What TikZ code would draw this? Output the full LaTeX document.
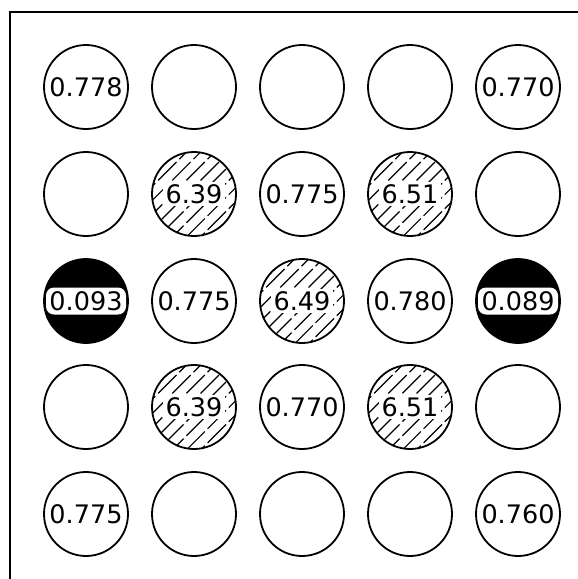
\documentclass[tikz,border=0pt]{standalone}
\usepackage{fontspec}
\setmainfont{DejaVu Sans}
\begin{document}
\begin{tikzpicture}[x=1pt,y=-1pt,
  circ/.style={circle,draw=black,line width=1.8pt,minimum size=84pt,inner sep=0pt,
    font=\fontsize{25.5}{25.5}\selectfont},
  blackcirc/.style={circ,fill=black},
  whitelabel/.style={fill=white,rounded corners=8pt,minimum width=80pt,minimum height=27pt,
    inner sep=0pt,font=\fontsize{25.5}{25.5}\selectfont},
  hatchline/.style={line width=1.2pt,dash pattern=on 26pt off 4pt},
  hatched/.style={circ,path picture={
    \foreach \d [evaluate=\d as \a using 0.7071*\d-50,
                 evaluate=\d as \b using -0.7071*\d-50,
                 evaluate=\d as \p using {mod(abs(\d)*7,30)}] in {-55,-45,...,55}
      \draw[hatchline,dash phase=\p pt] ([shift={(\a pt,\b pt)}]path picture bounding box.center) -- ++(100pt,100pt);
  }},
  frame/.style={line width=1.8pt}
]
\useasboundingbox (0,0) rectangle (578,579);
\coordinate (fa) at (10,579);
\coordinate (fb) at (10,12);
\coordinate (fc) at (578,12);
\draw[frame] (fa) -- (fb) -- (fc);

\newcommand{\hl}[1]{{\setlength\fboxsep{2.5pt}\colorbox{white}{#1}}}

% row 1
\node[circ] (c11) at (86,87) {0.778};
\node[circ] (c12) at (194,87) {};
\node[circ] (c13) at (302,87) {};
\node[circ] (c14) at (410,87) {};
\node[circ] (c15) at (518,87) {0.770};
% row 2
\node[circ] (c21) at (86,194) {};
\node[hatched] (c22) at (194,194) {\hl{6.39}};
\node[circ] (c23) at (302,194) {0.775};
\node[hatched] (c24) at (410,194) {\hl{6.51}};
\node[circ] (c25) at (518,194) {};
% row 3
\node[blackcirc] (c31) at (86,301) {};
\node[whitelabel] (t31) at (c31) {0.093};
\node[circ] (c32) at (194,301) {0.775};
\node[hatched] (c33) at (302,301) {\hl{6.49}};
\node[circ] (c34) at (410,301) {0.780};
\node[blackcirc] (c35) at (518,301) {};
\node[whitelabel] (t35) at (c35) {0.089};
% row 4
\node[circ] (c41) at (86,407) {};
\node[hatched] (c42) at (194,407) {\hl{6.39}};
\node[circ] (c43) at (302,407) {0.770};
\node[hatched] (c44) at (410,407) {\hl{6.51}};
\node[circ] (c45) at (518,407) {};
% row 5
\node[circ] (c51) at (86,514) {0.775};
\node[circ] (c52) at (194,514) {};
\node[circ] (c53) at (302,514) {};
\node[circ] (c54) at (410,514) {};
\node[circ] (c55) at (518,514) {0.760};
\end{tikzpicture}
\end{document}
